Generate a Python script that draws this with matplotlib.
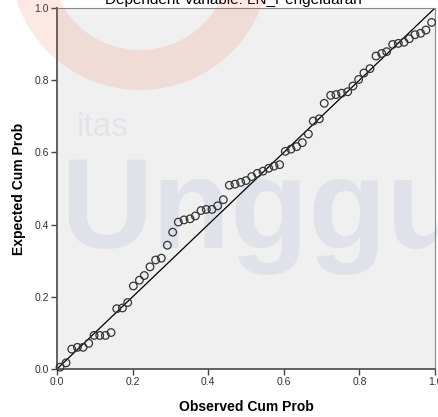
import matplotlib
matplotlib.use('Agg')
import matplotlib.pyplot as plt
from matplotlib.patches import Wedge

plt.rcParams['font.family'] = ['Liberation Sans', 'DejaVu Sans']

# Normal P-P plot of regression standardized residual
observed = [0.008, 0.024, 0.039, 0.054, 0.069, 0.084, 0.098, 0.113, 0.128, 0.143,
            0.158, 0.173, 0.187, 0.202, 0.218, 0.231, 0.246, 0.261, 0.276, 0.292,
            0.306, 0.321, 0.336, 0.352, 0.366, 0.381, 0.395, 0.410, 0.425, 0.440,
            0.456, 0.471, 0.486, 0.500, 0.515, 0.530, 0.545, 0.560, 0.574, 0.589,
            0.604, 0.619, 0.634, 0.649, 0.665, 0.678, 0.694, 0.707, 0.724, 0.738,
            0.753, 0.769, 0.783, 0.798, 0.812, 0.828, 0.844, 0.859, 0.872, 0.888,
            0.903, 0.918, 0.932, 0.947, 0.962, 0.976, 0.991]
expected = [0.005, 0.017, 0.055, 0.060, 0.060, 0.071, 0.093, 0.093, 0.093, 0.101,
            0.167, 0.169, 0.184, 0.230, 0.246, 0.259, 0.283, 0.302, 0.307, 0.343,
            0.379, 0.407, 0.413, 0.416, 0.424, 0.439, 0.442, 0.442, 0.452, 0.469,
            0.509, 0.512, 0.517, 0.522, 0.533, 0.542, 0.548, 0.556, 0.562, 0.566,
            0.603, 0.609, 0.616, 0.627, 0.651, 0.687, 0.693, 0.736, 0.758, 0.760,
            0.764, 0.768, 0.784, 0.802, 0.820, 0.832, 0.867, 0.874, 0.879, 0.899,
            0.902, 0.905, 0.915, 0.926, 0.930, 0.939, 0.960]
ticks = [0.0, 0.2, 0.4, 0.6, 0.8, 1.0]
tick_labels = ['0.0', '0.2', '0.4', '0.6', '0.8', '1.0']

W, H = 439, 417
fig = plt.figure(figsize=(W / 100, H / 100), dpi=100)
ax = fig.add_axes([57 / W, 1 - 369 / H, 378 / W, 361 / H])
ax.set_facecolor('#f0f0f0')

# reference line and points
ax.plot([0, 1], [0, 1], color='black', linewidth=0.9, zorder=2)
ax.scatter(observed, expected, s=30, facecolors='none', edgecolors='#333333',
           linewidths=0.9, zorder=3, clip_on=False)

ax.set_xlim(0, 1)
ax.set_ylim(0, 1)
ax.set_xticks(ticks)
ax.set_xticklabels(tick_labels)
ax.set_yticks(ticks)
ax.set_yticklabels(tick_labels)
ax.tick_params(direction='out', length=4, width=1, colors='#444444',
               labelcolor='#333333', labelsize=7.5, pad=2)

for side in ['left', 'bottom']:
    ax.spines[side].set_color('#555555')
    ax.spines[side].set_linewidth(1.3)
for side in ['top', 'right']:
    ax.spines[side].set_color('#888888')
    ax.spines[side].set_linewidth(0.8)

ax.set_xlabel('Observed Cum Prob', fontsize=10, fontweight='bold', labelpad=9)
ax.set_ylabel('Expected Cum Prob', fontsize=10, fontweight='bold', labelpad=6)

fig.text(0.5 + 14 / W, 1 - 4 / H, 'Dependent Variable: LN_Pengeluaran',
         ha='center', va='baseline', fontsize=11)

# faint watermark overlay
wm = fig.add_axes([0, 0, 1, 1], zorder=5)
wm.set_xlim(0, W)
wm.set_ylim(H, 0)
wm.axis('off')
wm.patch.set_alpha(0)
wm.add_patch(Wedge((140, -40), 130, 0, 180, width=40, color='#e8501e', alpha=0.12, lw=0))
wm.text(60, 248, 'Unggu', fontsize=92, fontweight='bold', color='#1f4e9a',
        alpha=0.08, ha='left', va='baseline')
wm.text(77, 136, 'itas', fontsize=24, color='#1f4e9a', alpha=0.07,
        ha='left', va='baseline')

fig.savefig('out.png', dpi=100)
